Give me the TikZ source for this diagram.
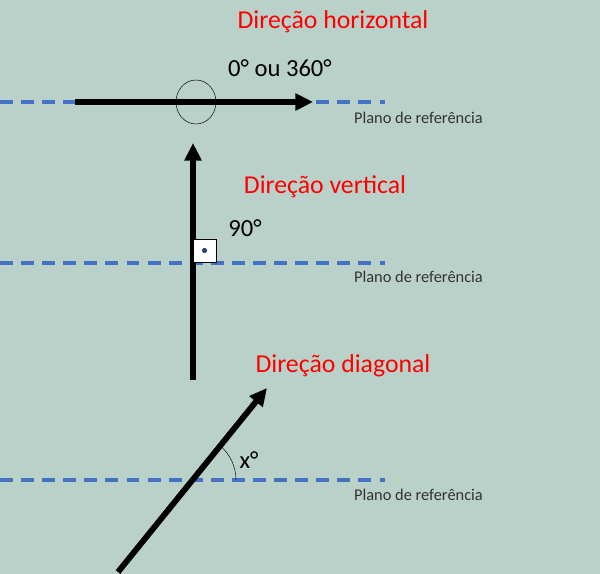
\documentclass[tikz,border=0pt]{standalone}
\usepackage{fontspec}
\setmainfont{Carlito}
\usepackage{tikz}
\usetikzlibrary{arrows.meta}
\definecolor{bgcol}{HTML}{B9D1C9}
\definecolor{refblue}{HTML}{4472C4}
\tikzset{
  refline/.style={refblue, line width=3pt, dash pattern=on 11pt off 7pt},
  dirarrow/.style={line width=5pt, -{Triangle[length=15pt,width=14pt]}},
  title/.style={red, font=\fontsize{22}{26}\selectfont},
  angle/.style={font=\fontsize{21}{25}\selectfont},
  plano/.style={black!80, font=\fontsize{14}{17}\selectfont, anchor=west}
}
\begin{document}
\begin{tikzpicture}[x=0.3mm,y=-0.3mm]
        \fill[bgcol] (0,0) rectangle (600,574);
        \useasboundingbox (0,0) rectangle (600,574);

        % horizontal
        \coordinate (h1) at (0,102);
        \coordinate (h2) at (385,102);
        \draw[refline] (h1) -- (h2);
        \coordinate (ha) at (75,102);
        \coordinate (hb) at (313,102);
        \draw[dirarrow] (ha) -- (hb);
        \draw[thin] (196,102) ellipse (20 and 22);
        \node[title] (th) at (333,22) {Direção horizontal};
        \node[angle] (ah) at (280,68) {0° ou 360°};
        \node[plano] (p1) at (350,118) {Plano de referência};

        % vertical
        \coordinate (v1) at (0,263);
        \coordinate (v2) at (385,263);
        \draw[refline] (v1) -- (v2);
        \coordinate (va) at (193,380);
        \coordinate (vb) at (193,143);
        \draw[dirarrow] (va) -- (vb);
        \draw[fill=white, thin] (193,239) rectangle (216,262);
        \fill[refblue!60!black] (204.5,250.5) circle (2.2pt);
        \node[title] (tv) at (325,187) {Direção vertical};
        \node[angle] (av) at (245,228) {90°};
        \node[plano] (p2) at (350,277) {Plano de referência};

        % diagonal
        \coordinate (d1) at (0,480);
        \coordinate (d2) at (385,480);
        \draw[refline] (d1) -- (d2);
        \coordinate (da) at (118,572);
        \coordinate (db) at (267,388);
        \draw[dirarrow] (da) -- (db);
        \draw[thin] (236,480) arc[start angle=0, end angle=51, x radius=45, y radius=-45];
        \node[title] (td) at (343,366) {Direção diagonal};
        \node[angle] (ad) at (249,460) {x°};
        \node[plano] (p3) at (350,495) {Plano de referência};
    \end{tikzpicture}
\end{document}
